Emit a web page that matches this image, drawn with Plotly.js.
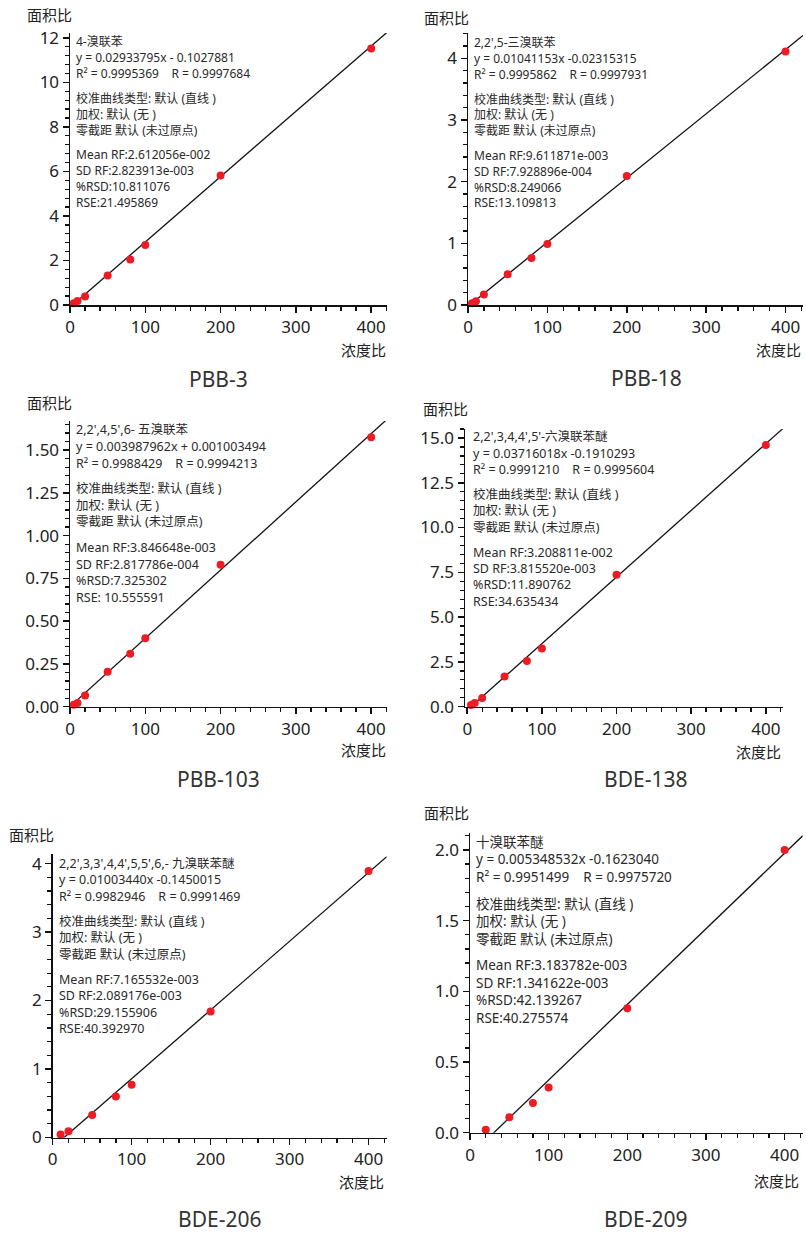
<!DOCTYPE html>
<html><head><meta charset="utf-8">
<script src="https://cdn.plot.ly/plotly-3.0.1.min.js"></script>
<style>html,body{margin:0;padding:0;background:#fff}#chart{width:806px;height:1233px}</style>
</head><body><div id="chart"></div>
<script>
// ---------- data ----------
const compoundNames = ['PBB-3', 'PBB-18', 'PBB-103', 'BDE-138', 'BDE-206', 'BDE-209'];
const concPBB3   = [5, 10, 20, 50, 80, 100, 200, 400];
const areaPBB3   = [0.08, 0.18, 0.38, 1.32, 2.04, 2.70, 5.82, 11.52];
const concPBB18  = [5, 10, 20, 50, 80, 100, 200, 400];
const areaPBB18  = [0.03, 0.06, 0.17, 0.50, 0.76, 0.99, 2.09, 4.11];
const concPBB103 = [5, 10, 20, 50, 80, 100, 200, 400];
const areaPBB103 = [0.012, 0.022, 0.065, 0.205, 0.31, 0.40, 0.83, 1.575];
const concBDE138 = [5, 10, 20, 50, 80, 100, 200, 400];
const areaBDE138 = [0.10, 0.20, 0.48, 1.68, 2.55, 3.25, 7.37, 14.6];
const concBDE206 = [10, 20, 50, 80, 100, 200, 400];
const areaBDE206 = [0.045, 0.09, 0.33, 0.60, 0.77, 1.84, 3.89];
const concBDE209 = [20, 50, 80, 100, 200, 400];
const areaBDE209 = [0.02, 0.11, 0.21, 0.32, 0.88, 2.0];
const slopes     = [0.02933795, 0.01041153, 0.003987962, 0.03716018, 0.01003440, 0.005348532];
const intercepts = [-0.1027881, -0.02315315, 0.001003494, -0.1910293, -0.1450015, -0.1623040];
const yTickStep  = [2, 1, 0.25, 2.5, 1, 0.5];
const yMinorStep = [0.4, 0.2, 0.05, 0.5, 0.2, 0.1];
const yTickFmt   = ['d', 'd', '.2f', '.1f', 'd', '.1f'];
const infoText = [
 ['4-溴联苯','y = 0.02933795x - 0.1027881','R² = 0.9995369    R = 0.9997684','校准曲线类型: 默认 (直线 )','加权: 默认 (无 )','零截距 默认 (未过原点)','Mean RF:2.612056e-002','SD RF:2.823913e-003','%RSD:10.811076','RSE:21.495869'],
 ['2,2\',5-三溴联苯','y = 0.01041153x -0.02315315','R² = 0.9995862    R = 0.9997931','校准曲线类型: 默认 (直线 )','加权: 默认 (无 )','零截距 默认 (未过原点)','Mean RF:9.611871e-003','SD RF:7.928896e-004','%RSD:8.249066','RSE:13.109813'],
 ['2,2\',4,5\',6- 五溴联苯','y = 0.003987962x + 0.001003494','R² = 0.9988429    R = 0.9994213','校准曲线类型: 默认 (直线 )','加权: 默认 (无 )','零截距 默认 (未过原点)','Mean RF:3.846648e-003','SD RF:2.817786e-004','%RSD:7.325302','RSE: 10.555591'],
 ['2,2\',3,4,4\',5\'-六溴联苯醚','y = 0.03716018x -0.1910293','R² = 0.9991210    R = 0.9995604','校准曲线类型: 默认 (直线 )','加权: 默认 (无 )','零截距 默认 (未过原点)','Mean RF:3.208811e-002','SD RF:3.815520e-003','%RSD:11.890762','RSE:34.635434'],
 ['2,2\',3,3\',4,4\',5,5\',6,- 九溴联苯醚','y = 0.01003440x -0.1450015','R² = 0.9982946    R = 0.9991469','校准曲线类型: 默认 (直线 )','加权: 默认 (无 )','零截距 默认 (未过原点)','Mean RF:7.165532e-003','SD RF:2.089176e-003','%RSD:29.155906','RSE:40.392970'],
 ['十溴联苯醚','y = 0.005348532x -0.1623040','R² = 0.9951499    R = 0.9975720','校准曲线类型: 默认 (直线 )','加权: 默认 (无 )','零截距 默认 (未过原点)','Mean RF:3.183782e-003','SD RF:1.341622e-003','%RSD:42.139267','RSE:40.275574']
];
const xLabel = '浓度比';
const yLabel = '面积比';

// ---------- layout geometry (pixels) ----------
const W = 806, H = 1233;
const panels = [
 {x0:70,  x1:387,   y0:33,  y1:305,   xr:[0,421],  yr:[0,12.22], tx:74,    ty:42,    s:15.8, g:9,   fs:12,   sub:[218,379],  yl:[49,15],   xl:[388,350]},
 {x0:468, x1:803,   y0:33,  y1:305,   xr:[0,422],  yr:[0,4.41],  tx:472,   ty:42.7,  s:15.8, g:9,   fs:12,   sub:[646,378],  yl:[446,18],  xl:[803,350]},
 {x0:70,  x1:387,   y0:421, y1:706.7, xr:[0,421],  yr:[0,1.67],  tx:74,    ty:430,   s:16.6, g:9,   fs:12.5, sub:[218,779],  yl:[49,403],  xl:[388,750]},
 {x0:465, x1:783,   y0:429, y1:706.7, xr:[-3,423], yr:[0,15.5],  tx:470.5, ty:436.7, s:16.4, g:8.5, fs:12.5, sub:[645,779],  yl:[445,409], xl:[783,752]},
 {x0:52.7,x1:386.7, y0:854, y1:1137.5,xr:[0,423],  yr:[0,4.14],  tx:57,    ty:863.3, s:16.5, g:8.5, fs:12.5, sub:[219,1219], yl:[31,835],  xl:[386,1182]},
 {x0:470, x1:802.7, y0:833, y1:1132.7,xr:[0,423],  yr:[0,2.12],  tx:474,   ty:841.7, s:17.6, g:9,   fs:13.5, sub:[645,1219], yl:[447,813], xl:[801,1181]}
];
const concs = [concPBB3, concPBB18, concPBB103, concBDE138, concBDE206, concBDE209];
const areas = [areaPBB3, areaPBB18, areaPBB103, areaBDE138, areaBDE206, areaBDE209];

const FONT = 'Noto Sans, Noto Sans CJK SC, sans-serif';
const px = v => v / W;
const py = v => 1 - v / H;

const traces = [];
const layout = {
  width: W, height: H, showlegend: false,
  margin: {l:0, r:0, t:0, b:0},
  paper_bgcolor: '#fff', plot_bgcolor: 'rgba(0,0,0,0)',
  font: {family: FONT, color: '#222'},
  annotations: []
};

panels.forEach((p, i) => {
  const n = i + 1;
  const xa = 'xaxis' + (n === 1 ? '' : n), ya = 'yaxis' + (n === 1 ? '' : n);
  const xr = 'x' + (n === 1 ? '' : n), yr = 'y' + (n === 1 ? '' : n);
  // regression line from the printed equation
  const lx = [0, p.xr[1]];
  traces.push({x: lx, y: lx.map(v => slopes[i] * v + intercepts[i]), xaxis: xr, yaxis: yr,
    mode: 'lines', line: {color: '#111', width: 1.3}, hoverinfo: 'skip'});
  traces.push({x: concs[i], y: areas[i], xaxis: xr, yaxis: yr, mode: 'markers', cliponaxis: false,
    marker: {color: '#ec1c24', size: 8}});
  layout[xa] = {domain: [px(p.x0), px(p.x1)], range: p.xr, anchor: yr,
    showline: true, linecolor: '#111', linewidth: 1.5, showgrid: false, zeroline: false,
    ticks: 'outside', ticklen: 6, tickwidth: 1.5, tickcolor: '#111', dtick: 100, tick0: 0,
    minor: {ticks: 'outside', ticklen: 4, tickwidth: 1.3, tickcolor: '#111', dtick: 20, showgrid: false},
    tickfont: {size: 17, color: '#222', family: FONT}};
  layout[ya] = {domain: [py(p.y1), py(p.y0)], range: p.yr, anchor: xr,
    showline: true, linecolor: '#111', linewidth: 1.5, showgrid: false, zeroline: false,
    ticks: 'outside', ticklen: 6, tickwidth: 1.5, tickcolor: '#111', dtick: yTickStep[i], tick0: 0,
    tickformat: yTickFmt[i],
    minor: {ticks: 'outside', ticklen: 4, tickwidth: 1.3, tickcolor: '#111', dtick: yMinorStep[i], showgrid: false},
    tickfont: {size: 17, color: '#222', family: FONT}};
  infoText[i].forEach((t, k) => {
    const grp = k < 3 ? 0 : (k < 6 ? 1 : 2);
    const yy = p.ty + k * p.s + grp * p.g;
    layout.annotations.push({xref: 'paper', yref: 'paper', x: px(p.tx), y: py(yy),
      xanchor: 'left', yanchor: 'middle', showarrow: false,
      text: t.replace(/ {2,}/g, m => '\u00a0'.repeat(m.length)),
      font: {size: p.fs, color: '#2a2a2a', family: FONT}});
  });
  layout.annotations.push({xref: 'paper', yref: 'paper', x: px(p.yl[0]), y: py(p.yl[1]),
    xanchor: 'center', yanchor: 'middle', showarrow: false, text: yLabel,
    font: {size: 15, color: '#222', family: FONT}});
  layout.annotations.push({xref: 'paper', yref: 'paper', x: px(p.xl[0]), y: py(p.xl[1]),
    xanchor: 'right', yanchor: 'middle', showarrow: false, text: xLabel,
    font: {size: 15, color: '#222', family: FONT}});
  layout.annotations.push({xref: 'paper', yref: 'paper', x: px(p.sub[0]), y: py(p.sub[1]),
    xanchor: 'center', yanchor: 'middle', showarrow: false, text: compoundNames[i],
    font: {size: 21, color: '#333', family: FONT}});
});

Plotly.newPlot('chart', traces, layout, {staticPlot: true});
</script></body></html>
